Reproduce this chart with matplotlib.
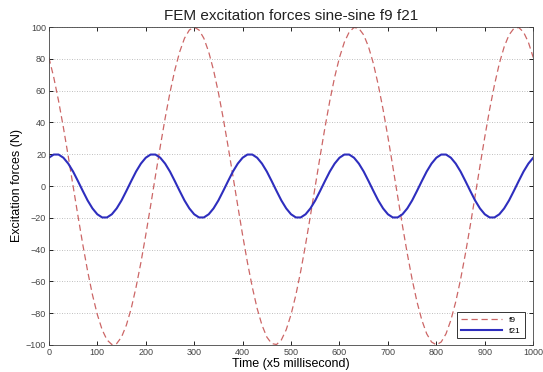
import matplotlib
matplotlib.use("Agg")
import matplotlib.pyplot as plt
import numpy as np

time = list(range(0, 1001, 10))

f9 = [80.9, 68.5, 53.6, 36.8, 18.7, 0.0, -18.7, -36.8, -53.6, -68.5,
      -80.9, -90.5, -96.9, -99.8, -99.2, -95.1, -87.6, -77.1, -63.7, -48.2,
      -30.9, -12.5, 6.3, 24.9, 42.6, 58.8, 72.9, 84.4, 93.0, 98.2,
      100.0, 98.2, 93.0, 84.4, 72.9, 58.8, 42.6, 24.9, 6.3, -12.5,
      -30.9, -48.2, -63.7, -77.1, -87.6, -95.1, -99.2, -99.8, -96.9, -90.5,
      -80.9, -68.5, -53.6, -36.8, -18.7, 0.0, 18.7, 36.8, 53.6, 68.5,
      80.9, 90.5, 96.9, 99.8, 99.2, 95.1, 87.6, 77.1, 63.7, 48.2,
      30.9, 12.5, -6.3, -24.9, -42.6, -58.8, -72.9, -84.4, -93.0, -98.2,
      -100.0, -98.2, -93.0, -84.4, -72.9, -58.8, -42.6, -24.9, -6.3, 12.5,
      30.9, 48.2, 63.7, 77.1, 87.6, 95.1, 99.2, 99.8, 96.9, 90.5,
      80.9]

f21 = [17.8, 19.8, 19.8, 17.8, 14.1, 9.1, 3.1, -3.1, -9.1, -14.1,
       -17.8, -19.8, -19.8, -17.8, -14.1, -9.1, -3.1, 3.1, 9.1, 14.1,
       17.8, 19.8, 19.8, 17.8, 14.1, 9.1, 3.1, -3.1, -9.1, -14.1,
       -17.8, -19.8, -19.8, -17.8, -14.1, -9.1, -3.1, 3.1, 9.1, 14.1,
       17.8, 19.8, 19.8, 17.8, 14.1, 9.1, 3.1, -3.1, -9.1, -14.1,
       -17.8, -19.8, -19.8, -17.8, -14.1, -9.1, -3.1, 3.1, 9.1, 14.1,
       17.8, 19.8, 19.8, 17.8, 14.1, 9.1, 3.1, -3.1, -9.1, -14.1,
       -17.8, -19.8, -19.8, -17.8, -14.1, -9.1, -3.1, 3.1, 9.1, 14.1,
       17.8, 19.8, 19.8, 17.8, 14.1, 9.1, 3.1, -3.1, -9.1, -14.1,
       -17.8, -19.8, -19.8, -17.8, -14.1, -9.1, -3.1, 3.1, 9.1, 14.1,
       17.8]

xticks = list(range(0, 1001, 100))
yticks = list(range(-100, 101, 20))

plt.rcParams['font.family'] = ['Liberation Sans', 'DejaVu Sans']

fig = plt.figure(figsize=(5.43, 3.72), dpi=100)
ax = fig.add_axes([0.090, 0.073, 0.892, 0.854])

ax.plot(time, f9, linestyle=(0, (5, 3)), color='#cc6666', linewidth=0.9, label='f9')
ax.plot(time, f21, linestyle='-', color='#2e2ebe', linewidth=1.5, label='f21')

ax.set_xlim(0, 1000)
ax.set_ylim(-100, 100)
ax.set_xticks(xticks)
ax.set_yticks(yticks)
ax.tick_params(direction='in', top=True, right=True, labelsize=6.5,
               labelcolor='#444444', length=3, width=0.6, pad=2)
ax.yaxis.grid(True, linestyle=(0, (1, 2)), color='#aaaaaa', linewidth=0.6)
ax.xaxis.grid(False)
for s in ax.spines.values():
    s.set_linewidth(0.6)
    s.set_color('#444444')

ax.set_title('FEM excitation forces sine-sine f9 f21', fontsize=11, pad=5, color='#222222')
ax.set_xlabel('Time (x5 millisecond)', fontsize=9, labelpad=1)
ax.set_ylabel('Excitation forces (N)', fontsize=9, labelpad=2)

leg = ax.legend(loc='lower right', fontsize=6, frameon=True, fancybox=False,
                edgecolor='#333333', framealpha=1, handlelength=5.0,
                borderaxespad=0.0, borderpad=0.45, labelspacing=0.35,
                bbox_to_anchor=(0.982, 0.02))
leg.get_frame().set_linewidth(0.7)

fig.savefig('out.png', dpi=100)
